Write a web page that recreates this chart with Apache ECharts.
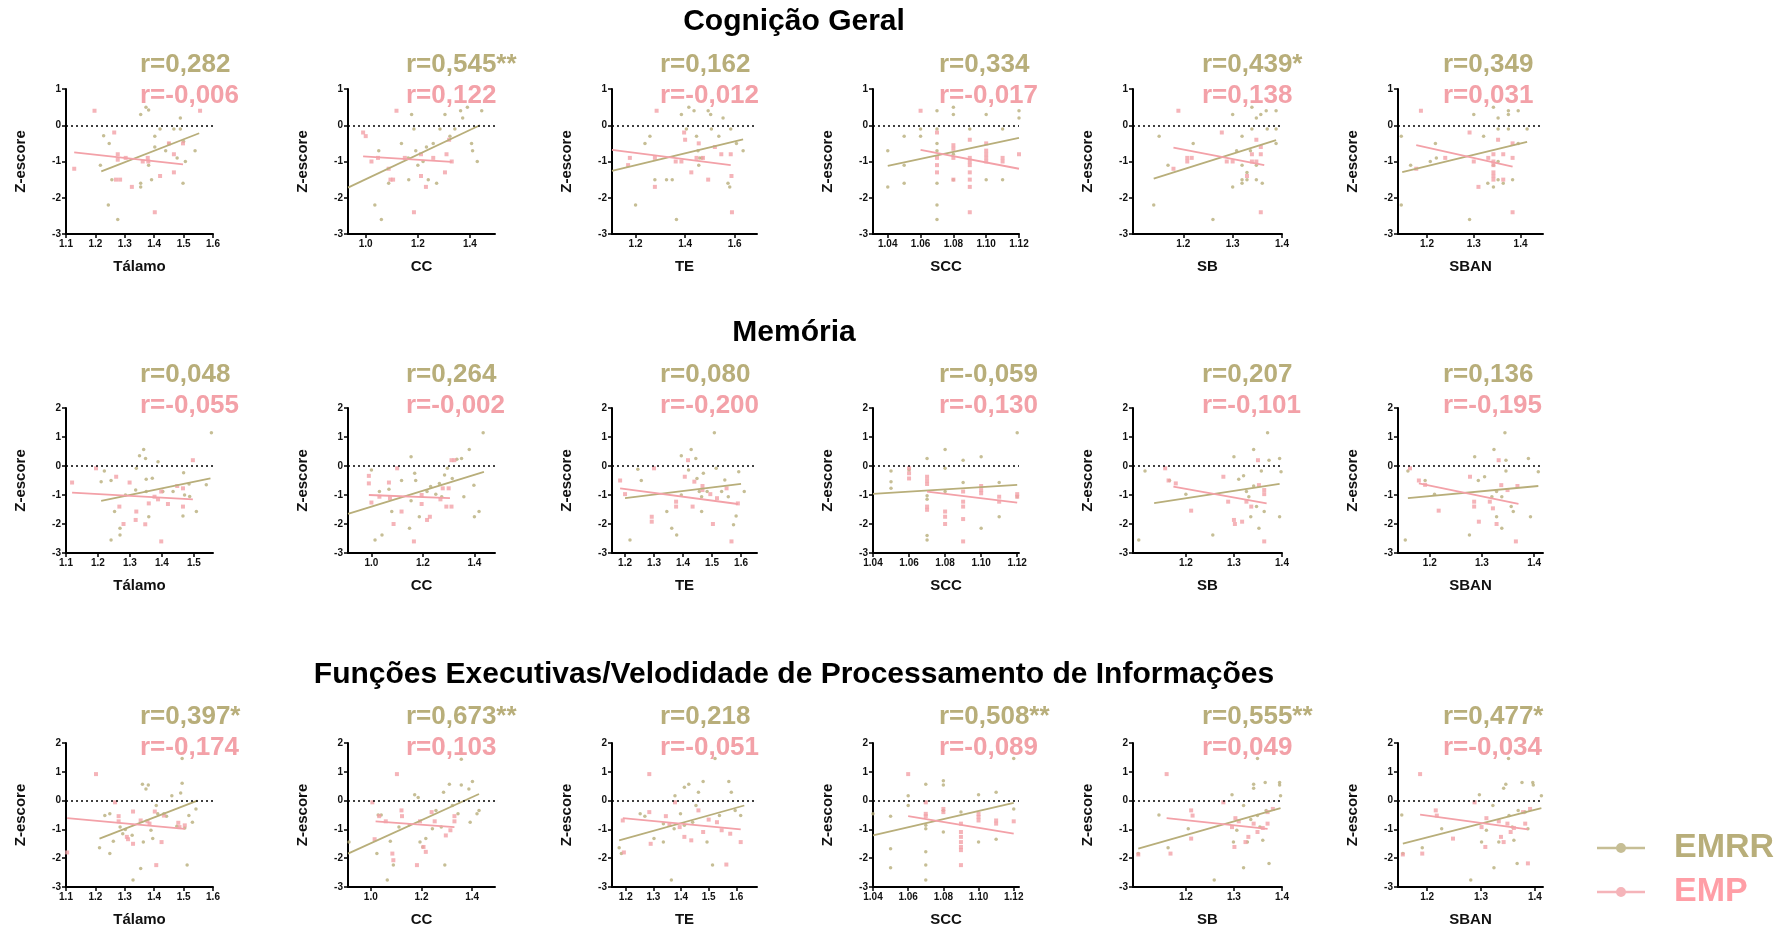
<!DOCTYPE html>
<html>
<head>
<meta charset="utf-8">
<script src="https://cdn.jsdelivr.net/npm/echarts@6/dist/echarts.min.js"></script>
<style>
  html, body { margin: 0; background: #fff; }
  #main { width: 1787px; height: 928px; }
</style>
</head>
<body>
<div id="main"></div>
<script>
// ---- data ----
var sectionTitles = ['Cognição Geral', 'Memória', 'Funções Executivas/Velodidade de Processamento de Informações'];
var regions = ['Tálamo', 'CC', 'TE', 'SCC', 'SB', 'SBAN'];

var cogR_EMRR = ['r=0,282', 'r=0,545**', 'r=0,162', 'r=0,334', 'r=0,439*', 'r=0,349'];
var cogR_EMP = ['r=-0,006', 'r=0,122', 'r=-0,012', 'r=-0,017', 'r=0,138', 'r=0,031'];
var memR_EMRR = ['r=0,048', 'r=0,264', 'r=0,080', 'r=-0,059', 'r=0,207', 'r=0,136'];
var memR_EMP = ['r=-0,055', 'r=-0,002', 'r=-0,200', 'r=-0,130', 'r=-0,101', 'r=-0,195'];
var fevR_EMRR = ['r=0,397*', 'r=0,673**', 'r=0,218', 'r=0,508**', 'r=0,555**', 'r=0,477*'];
var fevR_EMP = ['r=-0,174', 'r=0,103', 'r=-0,051', 'r=-0,089', 'r=0,049', 'r=-0,034'];

// x axis ranges and tick values
var cogXRange = [[1.1, 1.6], [0.932, 1.496], [1.105, 1.69], [1.031, 1.12], [1.098, 1.4], [1.138, 1.448]];
var memXRange = [[1.1, 1.56], [0.909, 1.48], [1.155, 1.655], [1.04, 1.121], [1.09, 1.4], [1.139, 1.417]];
var fevXRange = [[1.1, 1.6], [0.91, 1.49], [1.15, 1.675], [1.04, 1.123], [1.09, 1.4], [1.146, 1.415]];
var cogXTicks = [[1.1, 1.2, 1.3, 1.4, 1.5, 1.6], [1.0, 1.2, 1.4], [1.2, 1.4, 1.6], [1.04, 1.06, 1.08, 1.10, 1.12], [1.2, 1.3, 1.4], [1.2, 1.3, 1.4]];
var memXTicks = [[1.1, 1.2, 1.3, 1.4, 1.5], [1.0, 1.2, 1.4], [1.2, 1.3, 1.4, 1.5, 1.6], [1.04, 1.06, 1.08, 1.10, 1.12], [1.2, 1.3, 1.4], [1.2, 1.3, 1.4]];
var fevXTicks = [[1.1, 1.2, 1.3, 1.4, 1.5, 1.6], [1.0, 1.2, 1.4], [1.2, 1.3, 1.4, 1.5, 1.6], [1.04, 1.06, 1.08, 1.10, 1.12], [1.2, 1.3, 1.4], [1.2, 1.3, 1.4]];
var cogYRange = [-3, 1];
var memYRange = [-3, 2];
var fevYRange = [-3, 2];

// Cognição Geral
var cogEMRR = [
  [[1.228,-0.29],[1.247,-0.5],[1.217,-1.1],[1.244,-2.2],[1.276,-2.6],[1.256,-1.5],[1.354,0.3],[1.372,0.5],[1.381,0.42],[1.354,-1.6],[1.354,-1.7],[1.381,-1.1],[1.391,-1.5],[1.402,-0.3],[1.402,-0.6],[1.42,-0.1],[1.439,-0.7],[1.467,-0.1],[1.489,-0.1],[1.489,0.2],[1.478,-0.9],[1.498,-1.6],[1.506,-1.0],[1.539,-0.7],[1.5,-0.45],[1.45,-0.5]],
  [[1.05,-0.7],[1.035,-2.2],[1.06,-2.6],[1.088,-1.6],[1.137,-0.5],[1.163,-0.9],[1.176,0.3],[1.185,-0.1],[1.192,-0.7],[1.2,-1.1],[1.165,-1.5],[1.22,-1.0],[1.24,-1.5],[1.233,-0.6],[1.259,-0.5],[1.272,-1.6],[1.285,-0.1],[1.304,0.3],[1.323,-0.3],[1.342,-0.1],[1.364,0.4],[1.372,0.2],[1.39,0.5],[1.406,-0.5],[1.41,-0.7],[1.428,-1.0],[1.445,0.4]],
  [[1.2,-2.2],[1.238,-0.5],[1.258,-0.3],[1.278,-1.5],[1.325,-1.5],[1.348,-1.5],[1.365,-2.6],[1.385,0.3],[1.405,-0.1],[1.415,0.5],[1.436,0.4],[1.446,-0.3],[1.452,-0.7],[1.459,-0.9],[1.455,-1.1],[1.468,-0.9],[1.493,0.4],[1.503,0.3],[1.506,-0.1],[1.536,-0.3],[1.553,0.2],[1.573,-1.6],[1.58,-1.7],[1.584,-0.1],[1.607,-0.5],[1.634,-0.7]],
  [[1.04,-0.7],[1.04,-1.7],[1.05,-0.3],[1.05,-1.1],[1.05,-1.6],[1.06,-0.1],[1.06,-0.3],[1.07,0.4],[1.07,-0.1],[1.07,-0.5],[1.07,-0.7],[1.07,-1.6],[1.07,-2.2],[1.07,-2.6],[1.08,0.5],[1.08,0.3],[1.08,-0.8],[1.08,-1.5],[1.09,-0.1],[1.1,0.3],[1.1,-1.5],[1.11,-0.1],[1.11,-1.5],[1.12,0.4],[1.12,0.2]],
  [[1.14,-2.2],[1.151,-0.3],[1.169,-1.1],[1.22,-0.5],[1.26,-2.6],[1.3,0.3],[1.3,-1.7],[1.308,-0.7],[1.319,-0.3],[1.319,-1.1],[1.319,-1.5],[1.319,-1.6],[1.329,-1.3],[1.329,-1.5],[1.336,-0.7],[1.339,0.5],[1.339,-0.1],[1.348,0.2],[1.348,-1.1],[1.348,-1.5],[1.357,0.3],[1.36,-1.6],[1.368,0.4],[1.37,-0.1],[1.388,0.4],[1.388,-0.1],[1.388,-0.5]],
  [[1.145,-0.3],[1.145,-2.2],[1.165,-1.1],[1.207,-1.0],[1.218,-0.5],[1.22,-0.9],[1.291,-2.6],[1.3,0.3],[1.321,-0.3],[1.33,-1.6],[1.342,0.5],[1.342,-1.1],[1.342,-1.7],[1.352,0.2],[1.352,-0.1],[1.352,-1.0],[1.352,-1.5],[1.363,-1.6],[1.374,0.4],[1.374,0.3],[1.374,-0.1],[1.383,-1.5],[1.395,0.4],[1.414,-0.1],[1.395,-0.5]]
];
var cogEMP = [
  [[1.128,-1.2],[1.197,0.4],[1.264,-0.2],[1.276,-0.8],[1.276,-0.95],[1.284,-1.5],[1.27,-1.5],[1.303,-0.9],[1.324,-1.7],[1.361,-1.0],[1.378,-0.9],[1.402,-2.4],[1.42,-1.4],[1.45,-0.5],[1.467,-0.8],[1.467,-1.3],[1.498,-0.5],[1.556,0.4],[1.38,-1.0]],
  [[0.99,-0.2],[1.0,-0.3],[1.022,-1.0],[1.047,-0.9],[1.088,-1.2],[1.105,-1.5],[1.118,0.4],[1.15,-0.9],[1.185,-2.4],[1.212,-0.8],[1.212,-1.4],[1.231,-1.7],[1.259,-0.9],[1.304,-1.3],[1.31,-0.8],[1.32,-0.4],[1.33,-1.0],[1.095,-1.5]],
  [[1.177,-0.9],[1.17,-1.1],[1.285,0.4],[1.278,-1.7],[1.278,-0.9],[1.362,-1.0],[1.385,-1.0],[1.396,-0.2],[1.4,-0.4],[1.425,-1.3],[1.446,-0.9],[1.455,-0.5],[1.472,-0.9],[1.493,-1.5],[1.52,-0.6],[1.546,-0.8],[1.584,-0.8],[1.589,-2.4],[1.587,-1.4]],
  [[1.06,0.4],[1.07,-0.2],[1.07,-0.9],[1.07,-1.1],[1.07,-1.3],[1.08,-0.55],[1.08,-0.65],[1.08,-0.9],[1.08,-1.5],[1.09,-0.4],[1.09,-0.9],[1.09,-1.0],[1.09,-1.1],[1.09,-1.3],[1.09,-1.5],[1.09,-1.7],[1.09,-2.4],[1.1,-0.5],[1.1,-0.7],[1.1,-0.8],[1.1,-0.9],[1.1,-1.0],[1.11,-0.9],[1.11,-1.0],[1.12,-0.8]],
  [[1.19,0.4],[1.18,-1.2],[1.208,-0.9],[1.208,-1.0],[1.217,-0.9],[1.278,-0.2],[1.288,-1.0],[1.3,-1.0],[1.329,-1.4],[1.339,-0.8],[1.339,-1.0],[1.348,-0.4],[1.357,-0.8],[1.357,-0.6],[1.357,-2.4],[1.348,-1.0]],
  [[1.187,0.4],[1.177,-1.2],[1.239,-0.9],[1.291,-0.2],[1.3,-1.0],[1.31,-1.7],[1.331,-0.9],[1.342,-0.8],[1.342,-1.0],[1.342,-1.1],[1.342,-1.3],[1.342,-1.4],[1.342,-1.5],[1.352,-0.4],[1.363,-0.8],[1.383,-0.5],[1.383,-0.9],[1.383,-2.4],[1.363,-1.5]]
];
var cogFitEMRR = [[[1.22,-1.27],[1.553,-0.22]], [[0.932,-1.72],[1.438,0]], [[1.105,-1.26],[1.634,-0.39]], [[1.04,-1.12],[1.12,-0.35]], [[1.14,-1.47],[1.388,-0.41]], [[1.147,-1.29],[1.414,-0.46]]];
var cogFitEMP = [[[1.128,-0.75],[1.498,-1.08]], [[0.99,-0.86],[1.33,-1.01]], [[1.105,-0.68],[1.584,-1.1]], [[1.06,-0.68],[1.12,-1.2]], [[1.18,-0.62],[1.364,-1.1]], [[1.177,-0.55],[1.383,-1.14]]];

// Memória
var memEMRR = [
  [[1.21,-0.54],[1.22,-0.17],[1.241,-0.5],[1.252,-1.57],[1.241,-2.55],[1.269,-2.15],[1.269,-2.38],[1.286,-1.0],[1.318,-0.83],[1.32,-0.08],[1.33,0.35],[1.343,0.57],[1.349,0.26],[1.351,-0.46],[1.351,-0.88],[1.359,-1.75],[1.37,-0.42],[1.388,0.15],[1.403,-0.88],[1.435,-0.88],[1.468,-0.23],[1.471,-1.0],[1.487,-1.05],[1.485,-0.62],[1.466,-1.72],[1.508,-1.57],[1.539,-0.65],[1.555,1.15]],
  [[1.0,-0.14],[1.014,-2.55],[1.031,-0.88],[1.041,-2.38],[1.068,-0.8],[1.079,-1.57],[1.117,-0.5],[1.154,0.32],[1.168,-0.25],[1.172,-0.5],[1.154,-1.2],[1.148,-2.15],[1.186,-1.75],[1.216,-0.88],[1.23,-0.71],[1.25,-0.97],[1.264,-0.6],[1.273,-1.06],[1.284,-0.31],[1.295,-0.08],[1.314,-0.43],[1.332,0.23],[1.35,0.26],[1.359,-1.06],[1.38,0.57],[1.398,-0.66],[1.4,-1.75],[1.418,-1.57],[1.434,1.15]],
  [[1.217,-2.55],[1.244,-0.11],[1.256,-0.5],[1.344,-1.57],[1.361,-2.15],[1.378,-2.38],[1.394,-1.0],[1.394,0.35],[1.419,-0.14],[1.428,0.57],[1.444,0.26],[1.448,-0.43],[1.456,-0.88],[1.464,-1.06],[1.464,-1.57],[1.47,-0.25],[1.483,-0.88],[1.508,1.15],[1.514,-0.08],[1.533,-0.88],[1.544,-0.48],[1.556,-1.06],[1.574,-2.03],[1.583,-1.72],[1.592,-0.2],[1.611,-0.88]],
  [[1.05,-0.17],[1.05,-0.54],[1.05,-0.77],[1.06,-0.14],[1.07,0.26],[1.07,-1.03],[1.07,-1.15],[1.07,-2.4],[1.07,-2.55],[1.08,0.57],[1.08,-0.08],[1.08,-0.88],[1.09,0.2],[1.09,-0.57],[1.1,0.32],[1.1,-2.15],[1.11,-0.57],[1.11,-1.75],[1.12,1.15],[1.12,-1.06]],
  [[1.102,-2.55],[1.115,-0.17],[1.166,-0.5],[1.2,-0.97],[1.256,-2.38],[1.3,0.32],[1.31,-0.46],[1.32,-0.34],[1.326,-0.88],[1.331,-1.06],[1.335,-1.75],[1.341,0.57],[1.341,-0.69],[1.347,-1.4],[1.352,-2.15],[1.357,-0.17],[1.363,-1.57],[1.37,1.15],[1.373,0.2],[1.395,-1.75],[1.395,0.26],[1.398,-0.2]],
  [[1.153,-2.55],[1.158,-0.17],[1.209,-0.97],[1.191,-0.5],[1.276,-2.38],[1.286,0.32],[1.293,-0.5],[1.305,-0.37],[1.319,-1.06],[1.323,0.57],[1.328,-0.88],[1.328,-1.75],[1.338,-1.06],[1.338,-2.15],[1.344,1.15],[1.346,-0.17],[1.346,0.2],[1.356,-1.4],[1.36,-1.57],[1.389,0.26],[1.393,-1.75],[1.408,-0.2]]
];
var memEMP = [
  [[1.119,-0.57],[1.194,-0.08],[1.257,-0.37],[1.267,-1.4],[1.28,-2.0],[1.299,-0.57],[1.318,-1.86],[1.32,-1.57],[1.348,-2.01],[1.359,-1.29],[1.377,-1.06],[1.388,-1.15],[1.398,-2.6],[1.398,-0.88],[1.419,-1.31],[1.448,-0.69],[1.466,-1.4],[1.466,-0.77],[1.497,0.2]],
  [[0.99,-0.34],[0.99,-0.6],[1.0,-1.26],[1.031,-1.06],[1.068,-0.57],[1.072,-1.11],[1.086,-2.0],[1.1,-0.08],[1.117,-1.57],[1.165,-2.6],[1.195,-1.31],[1.195,-1.0],[1.216,-1.86],[1.227,-1.75],[1.268,-1.15],[1.277,-0.77],[1.291,-1.4],[1.3,-0.77],[1.311,0.2],[1.311,-1.4],[1.322,0.2]],
  [[1.183,-0.5],[1.2,-0.97],[1.3,-0.08],[1.292,-1.75],[1.292,-1.92],[1.376,-1.23],[1.376,-1.4],[1.406,-0.37],[1.417,0.2],[1.433,-1.4],[1.439,-0.54],[1.467,-0.69],[1.467,-0.83],[1.494,-0.97],[1.503,-2.0],[1.517,-1.11],[1.55,-0.77],[1.567,-2.6],[1.589,-1.29]],
  [[1.06,-0.08],[1.06,-0.25],[1.06,-0.43],[1.07,-0.37],[1.07,-0.5],[1.07,-0.62],[1.07,-1.4],[1.07,-1.51],[1.08,-1.57],[1.08,-1.75],[1.08,-2.0],[1.09,-0.88],[1.09,-1.23],[1.09,-1.4],[1.09,-1.83],[1.09,-2.6],[1.1,-0.69],[1.1,-0.83],[1.1,-0.94],[1.11,-1.06],[1.11,-1.23],[1.12,-0.97],[1.12,-1.06]],
  [[1.157,-0.08],[1.164,-0.5],[1.179,-0.6],[1.211,-1.54],[1.278,-0.37],[1.288,-1.23],[1.3,-1.86],[1.302,-2.0],[1.317,-1.92],[1.326,-1.23],[1.336,-1.4],[1.35,0.2],[1.352,-0.66],[1.363,-0.83],[1.363,-0.97],[1.363,-2.6]],
  [[1.162,-0.08],[1.179,-0.5],[1.191,-0.65],[1.217,-1.54],[1.277,-0.37],[1.285,-1.23],[1.285,-1.4],[1.294,-1.92],[1.315,-1.23],[1.321,-1.46],[1.328,-2.0],[1.332,0.2],[1.337,-0.66],[1.349,-0.83],[1.365,-2.6],[1.368,-0.69]]
];
var memFitEMRR = [[[1.21,-1.2],[1.552,-0.43]], [[0.909,-1.65],[1.437,-0.2]], [[1.2,-1.11],[1.6,-0.62]], [[1.04,-0.96],[1.12,-0.65]], [[1.134,-1.28],[1.395,-0.62]], [[1.158,-1.11],[1.408,-0.69]]];
var memFitEMP = [[[1.119,-0.92],[1.497,-1.15]], [[0.99,-1.0],[1.305,-1.11]], [[1.183,-0.77],[1.589,-1.31]], [[1.07,-0.88],[1.12,-1.26]], [[1.174,-0.71],[1.368,-1.29]], [[1.179,-0.6],[1.37,-1.31]]];

// Funções Executivas / Velocidade de Processamento
var fevEMRR = [
  [[1.214,-1.64],[1.232,-0.52],[1.249,-0.46],[1.249,-1.84],[1.261,-1.41],[1.284,-0.92],[1.302,-1.0],[1.293,-1.15],[1.325,-1.2],[1.328,-2.76],[1.36,0.57],[1.372,0.4],[1.38,0.54],[1.354,-2.36],[1.363,-1.44],[1.389,-1.03],[1.395,-1.32],[1.407,-0.17],[1.412,-0.46],[1.433,-0.46],[1.442,-0.54],[1.46,0.17],[1.477,-0.89],[1.495,0.6],[1.49,0.26],[1.504,-0.95],[1.512,-2.24],[1.518,-0.52],[1.53,-0.75],[1.542,-0.29],[1.495,1.46]],
  [[0.914,-1.44],[1.024,-1.84],[1.029,-0.5],[1.041,-0.5],[1.065,-2.76],[1.077,-1.41],[1.089,-2.24],[1.111,-0.92],[1.152,-0.84],[1.173,0.2],[1.187,0.11],[1.194,-1.44],[1.205,-1.61],[1.217,-1.32],[1.243,-0.98],[1.257,-0.34],[1.278,-0.92],[1.292,-2.24],[1.287,0.29],[1.31,0.57],[1.322,-0.17],[1.344,-0.46],[1.357,1.44],[1.357,0.54],[1.387,0.4],[1.392,-0.75],[1.401,0.66],[1.419,-0.46],[1.427,-0.34]],
  [[1.176,-1.64],[1.184,-1.84],[1.252,-0.46],[1.269,-0.54],[1.302,-1.32],[1.336,-1.44],[1.336,-0.8],[1.365,-2.76],[1.378,0.17],[1.375,-0.98],[1.398,-0.46],[1.412,0.46],[1.428,0.57],[1.412,-0.86],[1.442,-0.75],[1.454,-0.17],[1.463,0.29],[1.48,0.66],[1.494,-1.44],[1.514,-2.24],[1.523,1.46],[1.539,-0.52],[1.573,0.66],[1.582,0.29],[1.596,-0.34],[1.616,-0.52]],
  [[1.04,-0.46],[1.05,-0.54],[1.05,-1.67],[1.05,-2.33],[1.06,0.17],[1.06,-0.17],[1.07,0.57],[1.07,-0.86],[1.07,-0.98],[1.07,-1.78],[1.07,-2.24],[1.07,-2.76],[1.08,0.69],[1.08,0.54],[1.08,-0.34],[1.08,-1.09],[1.09,-0.4],[1.1,0.2],[1.1,-1.44],[1.11,0.29],[1.11,-1.34],[1.12,1.46],[1.12,-0.29]],
  [[1.101,-1.84],[1.144,-0.5],[1.163,-1.64],[1.205,-0.98],[1.259,-2.76],[1.296,0.2],[1.299,-1.44],[1.306,-1.03],[1.32,-0.17],[1.32,-2.33],[1.328,-1.44],[1.335,-0.66],[1.341,0.43],[1.341,0.57],[1.349,1.46],[1.349,-0.52],[1.354,-0.92],[1.36,-1.38],[1.365,0.63],[1.367,-0.34],[1.373,-2.18],[1.395,0.63],[1.395,0.54],[1.397,0.17]],
  [[1.155,-1.84],[1.153,-0.5],[1.191,-1.64],[1.227,-0.98],[1.281,-2.76],[1.297,0.2],[1.301,-1.44],[1.31,-1.03],[1.322,-0.17],[1.324,-2.33],[1.333,-1.44],[1.342,0.43],[1.346,0.57],[1.351,1.46],[1.352,-0.52],[1.358,-0.92],[1.361,-1.38],[1.367,-2.18],[1.369,-0.34],[1.376,0.63],[1.382,-0.4],[1.387,-0.98],[1.396,0.63],[1.397,0.54],[1.412,0.17]]
];
var fevEMP = [
  [[1.104,-1.8],[1.202,0.92],[1.267,-0.06],[1.279,-0.54],[1.279,-0.72],[1.307,-1.26],[1.311,-1.34],[1.328,-0.38],[1.328,-1.5],[1.354,-0.69],[1.377,-0.72],[1.384,-0.8],[1.402,-0.38],[1.407,-2.24],[1.425,-1.44],[1.433,-0.52],[1.482,-0.77],[1.486,-0.92],[1.504,-0.86]],
  [[1.006,-0.06],[1.015,-1.34],[1.033,-0.54],[1.059,-0.72],[1.103,0.92],[1.085,-1.84],[1.089,-2.07],[1.121,-0.34],[1.123,-0.54],[1.182,-2.24],[1.194,-0.72],[1.208,-1.61],[1.217,-1.78],[1.24,-0.4],[1.252,-0.72],[1.296,-1.21],[1.314,-1.03],[1.33,-0.72],[1.33,-0.54]],
  [[1.189,-0.69],[1.193,-1.8],[1.285,0.92],[1.285,-0.4],[1.29,-1.5],[1.345,-0.54],[1.358,-0.84],[1.378,-0.06],[1.395,-0.92],[1.412,-1.26],[1.437,-1.38],[1.463,-0.34],[1.48,-1.09],[1.5,-0.66],[1.53,-0.75],[1.547,-1.03],[1.564,-2.22],[1.578,-1.15],[1.616,-1.44]],
  [[1.06,0.92],[1.07,-0.06],[1.07,-0.46],[1.07,-0.54],[1.08,-0.29],[1.08,-0.4],[1.09,-0.8],[1.09,-1.09],[1.09,-1.26],[1.09,-1.44],[1.09,-1.61],[1.09,-1.72],[1.09,-2.24],[1.1,-0.46],[1.1,-0.57],[1.1,-0.69],[1.11,-0.69],[1.11,-0.8],[1.12,-0.72]],
  [[1.101,-1.87],[1.16,0.92],[1.168,-1.84],[1.211,-0.34],[1.214,-0.52],[1.211,-1.32],[1.278,-0.06],[1.296,-0.92],[1.301,-1.61],[1.303,-0.61],[1.31,-0.72],[1.324,-1.44],[1.33,-1.26],[1.341,-0.8],[1.349,-1.09],[1.36,-0.95],[1.37,-0.4],[1.37,-0.8],[1.381,-0.29]],
  [[1.155,-1.87],[1.187,0.92],[1.191,-1.84],[1.216,-0.34],[1.218,-0.52],[1.248,-1.32],[1.288,-0.06],[1.301,-0.92],[1.308,-1.61],[1.31,-0.61],[1.333,-0.72],[1.337,-1.26],[1.342,-1.44],[1.349,-0.8],[1.355,-1.09],[1.361,-0.95],[1.378,-0.4],[1.382,-0.8],[1.387,-2.18],[1.391,-0.29]]
];
var fevFitEMRR = [[[1.214,-1.32],[1.547,0.0]], [[0.91,-1.84],[1.427,0.23]], [[1.176,-1.38],[1.629,-0.17]], [[1.04,-1.21],[1.12,-0.08]], [[1.101,-1.67],[1.397,-0.26]], [[1.155,-1.49],[1.412,-0.26]]];
var fevFitEMP = [[[1.104,-0.61],[1.504,-0.98]], [[1.019,-0.72],[1.33,-0.92]], [[1.189,-0.61],[1.616,-1.0]], [[1.06,-0.54],[1.12,-1.15]], [[1.16,-0.61],[1.37,-0.98]], [[1.187,-0.49],[1.387,-1.0]]];

// ---- layout / style ----
var OLIVE = '#b8ae7a';
var PINK = '#f3a1a8';
var FONT = 'Liberation Sans, Arial, sans-serif';

var rowsDef = [
  { rEMRR: cogR_EMRR, rEMP: cogR_EMP, xRange: cogXRange, xTicks: cogXTicks, yRange: cogYRange, emrr: cogEMRR, emp: cogEMP, fitEmrr: cogFitEMRR, fitEmp: cogFitEMP },
  { rEMRR: memR_EMRR, rEMP: memR_EMP, xRange: memXRange, xTicks: memXTicks, yRange: memYRange, emrr: memEMRR, emp: memEMP, fitEmrr: memFitEMRR, fitEmp: memFitEMP },
  { rEMRR: fevR_EMRR, rEMP: fevR_EMP, xRange: fevXRange, xTicks: fevXTicks, yRange: fevYRange, emrr: fevEMRR, emp: fevEMP, fitEmrr: fevFitEMRR, fitEmp: fevFitEMP }
];

var colLeft = [66, 348, 612, 873, 1133, 1398];
var colWidth = [147, 147, 145, 146, 149, 145];
var rowTop = [89, 408, 743];
var plotH = 145;
var rTextLeft = [140, 406, 660, 939, 1202, 1443];
var rTextTop = [52, 362, 704];
var sectionTop = [7, 318, 660];

var grids = [], xAxes = [], yAxes = [], series = [], titles = [];

sectionTitles.forEach(function (t, r) {
  titles.push({
    text: t, left: 794, top: sectionTop[r], textAlign: 'center', padding: 0,
    textStyle: { fontFamily: FONT, fontSize: 30, fontWeight: 'bold', color: '#000' }
  });
});

rowsDef.forEach(function (row, r) {
  for (var c = 0; c < 6; c++) {
    var i = r * 6 + c;
    var dec = regions[c] === 'SCC' ? 2 : 1;
    grids.push({ left: colLeft[c], top: rowTop[r], width: colWidth[c], height: plotH, containLabel: false });
    xAxes.push({
      gridIndex: i, type: 'value', min: row.xRange[c][0], max: row.xRange[c][1],
      name: regions[c], nameLocation: 'middle', nameGap: 25,
      nameTextStyle: { fontFamily: FONT, fontSize: 15, fontWeight: 'bold', color: '#111' },
      axisLine: { onZero: false, lineStyle: { color: '#000', width: 2 } },
      axisTick: { customValues: row.xTicks[c], length: 4, lineStyle: { color: '#000', width: 1.5 } },
      axisLabel: {
        customValues: row.xTicks[c], margin: 5,
        formatter: (function (d) { return function (v) { return v.toFixed(d); }; })(dec),
        fontFamily: FONT, fontSize: 10, fontWeight: 'bold', color: '#111'
      },
      splitLine: { show: false }
    });
    yAxes.push({
      gridIndex: i, type: 'value', min: row.yRange[0], max: row.yRange[1], interval: 1,
      name: 'Z-escore', nameLocation: 'middle', nameGap: 38,
      nameTextStyle: { fontFamily: FONT, fontSize: 15, fontWeight: 'bold', color: '#111' },
      axisLine: { show: true, onZero: false, lineStyle: { color: '#000', width: 2 } },
      axisTick: { show: true, length: 4, lineStyle: { color: '#000', width: 1.5 } },
      axisLabel: { margin: 5, fontFamily: FONT, fontSize: 10, fontWeight: 'bold', color: '#111' },
      splitLine: { show: false }
    });
    series.push({
      name: 'EMRR', type: 'scatter', xAxisIndex: i, yAxisIndex: i, data: row.emrr[c],
      symbol: 'circle', symbolSize: 3.5, itemStyle: { color: OLIVE }, z: 3,
      markLine: {
        silent: true, symbol: 'none', label: { show: false },
        lineStyle: { color: '#000', type: [2, 3], width: 1.5 },
        data: [{ yAxis: 0 }]
      }
    });
    series.push({
      name: 'EMP', type: 'scatter', xAxisIndex: i, yAxisIndex: i, data: row.emp[c],
      symbol: 'rect', symbolSize: 4, itemStyle: { color: PINK }, z: 3
    });
    series.push({
      name: 'EMRR', type: 'line', xAxisIndex: i, yAxisIndex: i, data: row.fitEmrr[c],
      showSymbol: false, lineStyle: { color: OLIVE, width: 1.8 }, itemStyle: { color: OLIVE }, z: 4
    });
    series.push({
      name: 'EMP', type: 'line', xAxisIndex: i, yAxisIndex: i, data: row.fitEmp[c],
      showSymbol: false, lineStyle: { color: PINK, width: 1.8 }, itemStyle: { color: PINK }, z: 4
    });
    titles.push({
      text: row.rEMRR[c], subtext: row.rEMP[c], left: rTextLeft[c], top: rTextTop[r], padding: 0, itemGap: 5,
      textStyle: { fontFamily: FONT, fontSize: 26, fontWeight: 'bold', color: OLIVE, lineHeight: 26 },
      subtextStyle: { fontFamily: FONT, fontSize: 26, fontWeight: 'bold', color: PINK, lineHeight: 26 }
    });
  }
});

var myChart = echarts.init(document.getElementById('main'));
myChart.setOption({
  animation: false,
  title: titles,
  legend: {
    orient: 'vertical', left: 1592, top: 826, itemGap: 10,
    itemWidth: 48, itemHeight: 12,
    icon: 'path://M0,5h48v2.5h-48z M19,6.25a5,5 0 1,1 10,0a5,5 0 1,1 -10,0z',
    data: [
      { name: 'EMRR', textStyle: { color: OLIVE } },
      { name: 'EMP', textStyle: { color: '#ff9ea6' } }
    ],
    textStyle: { fontFamily: FONT, fontSize: 34, fontWeight: 'bold', padding: [0, 0, 0, 24] }
  },
  grid: grids,
  xAxis: xAxes,
  yAxis: yAxes,
  series: series
});
</script>
</body>
</html>
